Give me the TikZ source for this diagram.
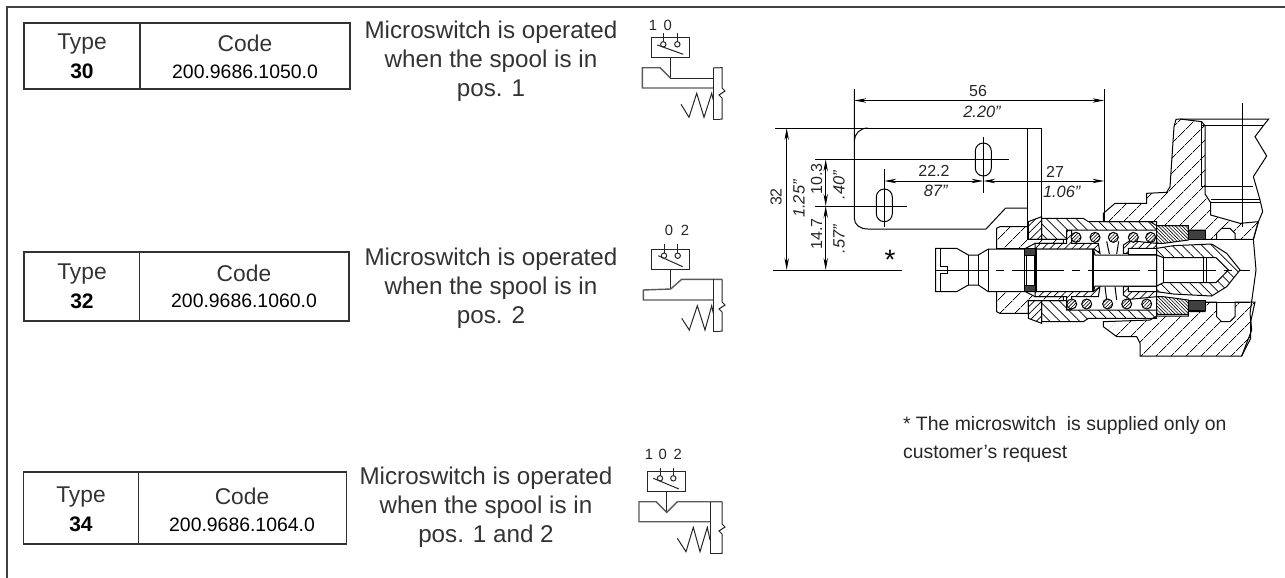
\documentclass[tikz,border=0pt]{standalone}
\usepackage{fontspec}
\setmainfont{Liberation Sans}
\usepackage{xcolor}
\usetikzlibrary{arrows.meta,patterns.meta}

\tikzset{
    frameline/.style={draw=black!75, line width=1pt},
    cellbox/.style={draw=black!80, line width=0.6pt},
    headtext/.style={font=\fontsize{11.4}{13}\selectfont, text=black!80},
    typetext/.style={font=\fontsize{10.5}{13}\selectfont\bfseries},
    codetext/.style={font=\fontsize{9.7}{12}\selectfont},
    desctext/.style={font=\fontsize{12.1}{14.4}\selectfont, text=black!80, align=center},
    notetext/.style={font=\fontsize{9.7}{10}\selectfont, text=black!85, anchor=west},
    dimtext/.style={font=\fontsize{8}{10}\selectfont, text=black!85},
    dimitalic/.style={font=\fontsize{8.2}{10}\selectfont\itshape, text=black!85},
    swtext/.style={font=\fontsize{7.4}{9}\selectfont, text=black!85},
    swline/.style={draw=black!85, line width=0.5pt},
    camline/.style={draw=black!65, line width=0.7pt},
    dimline/.style={line width=0.45pt, <->, >={Stealth[length=6pt,width=2.2pt]}},
    thinline/.style={line width=0.5pt},
    hatchwide/.style={draw, line width=0.5pt, pattern={Lines[angle=45,distance=5.4pt,line width=0.35pt]}},
    hatchback/.style={draw, line width=0.5pt, pattern={Lines[angle=-45,distance=3.5pt,line width=0.35pt]}},
    hatchfine/.style={draw, line width=0.5pt, pattern={Lines[angle=45,distance=2.6pt,line width=0.35pt]}},
    hatchdense/.style={draw, line width=0.5pt, pattern={Lines[angle=-45,distance=1.2pt,line width=0.3pt]}},
    hatchcoil/.style={draw, line width=0.5pt, preaction={fill=white}, pattern={Lines[angle=45,distance=1.2pt,line width=0.3pt]}},
    oring/.style={draw, line width=0.5pt, fill=black!75},
}

% one half of the valve section, drawn again mirrored
\newcommand{\spoolhalf}{
    \path[hatchwide] (110,445) -- (120,440) -- (205,440) -- (205,478) -- (310,478) -- (310,490) -- (225,490) -- (195,506) -- (110,506) -- cycle;
    \path[hatchfine] (205,425) -- (245,410) -- (245,478) -- (205,478) -- cycle;
    \path[hatchback] (245,415) -- (370,415) -- (385,425) -- (590,425) -- (590,450) -- (320,450) -- (320,478) -- (245,478) -- cycle;
    \path[hatchfine] (320,452) -- (335,452) -- (335,490) -- (415,490) -- (420,520) -- (402,507) -- (225,507) -- (225,490) -- (320,490) -- cycle;
    \path[hatchfine] (490,520) -- (490,495) -- (510,482) -- (590,490) -- (590,505) -- (505,505) -- (505,520) -- cycle;
    \draw[thinline] (505,505) rectangle (590,522);
    \path[hatchdense] (590,437) -- (685,437) -- (685,480) -- (610,490) -- (590,490) -- cycle;
    \path[oring] (685,450) rectangle (735,478);
}

\begin{document}
\begin{tikzpicture}[x=0.5pt,y=-0.5pt]
    \useasboundingbox (0,0) rectangle (1285,578);

    % outer frame
    \draw[frameline] (7,578) -- (7,6.5) -- (1285,6.5);

    % type and code tables
    \draw[cellbox] (24,23) rectangle (350,89);
    \draw[cellbox] (140,23) -- (140,89);
    \node[headtext] (type30) at (82,44) {Type};
    \node[typetext] (num30) at (82,71.5) {30};
    \node[headtext] (code30) at (245,43) {Code};
    \node[codetext] (val30) at (245,71.5) {200.9686.1050.0};

    \draw[cellbox] (24,252) rectangle (349,321);
    \draw[cellbox] (139.5,252) -- (139.5,321);
    \node[headtext] (type32) at (82,274) {Type};
    \node[typetext] (num32) at (82,301) {32};
    \node[headtext] (code32) at (244,273) {Code};
    \node[codetext] (val32) at (244,301) {200.9686.1060.0};

    \draw[cellbox] (23.5,472) rectangle (346.5,544);
    \draw[cellbox] (138.5,472) -- (138.5,544);
    \node[headtext] (type34) at (81,497) {Type};
    \node[typetext] (num34) at (81,524.5) {34};
    \node[headtext] (code34) at (242,496) {Code};
    \node[codetext] (val34) at (242,524.5) {200.9686.1064.0};

    % descriptions
    \node[desctext] (desc30) at (491,61.5) {Microswitch is operated\\when the spool is in\\pos. 1};
    \node[desctext] (desc32) at (491,288) {Microswitch is operated\\when the spool is in\\pos. 2};
    \node[desctext] (desc34) at (486,507) {Microswitch is operated\\when the spool is in\\pos. 1 and 2};

    % switch symbol, type 30
    \node[swtext] (sw30a) at (653,25) {1};
    \node[swtext] (sw30b) at (667.7,25) {0};
    \draw[swline] (651,37.3) rectangle (689,57.3);
    \draw[swline] (663.3,33.3) -- (663.3,41.6) (677.3,33.3) -- (677.3,41.6);
    \draw[swline] (663.3,44.3) circle (2.7) (677.3,44.3) circle (2.7);
    \draw[swline] (657.3,45) -- (683.3,54.3);
    \draw[swline] (670.7,57.3) -- (670.7,78.3) -- (713.3,78.3);
    \draw[camline] (720,67.7) -- (713.3,67.7) (713.3,88) -- (642.3,88) -- (642.3,67.7) -- (660,67.7) -- (670.7,78.3);
    \draw[swline] (713.3,67.7) -- (713.3,119) -- (720,119);
    \draw[swline] (681,104.3) -- (689,117.3) -- (696.7,93.3) -- (704,117.3) -- (711.7,93.3) -- (713.3,100);
    \draw[swline] (720,67.7) -- (722,67.7) -- (722,88) -- (725,91) -- (719,95) -- (722,98) -- (722,119) -- (720,119);

    % switch symbol, type 32
    \node[swtext] (sw32a) at (669,230.7) {0};
    \node[swtext] (sw32b) at (685,230.7) {2};
    \draw[swline] (651.7,249) rectangle (689.3,269);
    \draw[swline] (664,244.3) -- (664,253) (677.7,244.3) -- (677.7,253);
    \draw[swline] (664,255.7) circle (2.7) (677.7,255.7) circle (2.7);
    \draw[swline] (658.3,255.7) -- (682.7,266.7);
    \draw[swline] (670.7,269) -- (670.7,289);
    \draw[camline] (722,279.3) -- (681.7,279.3) -- (670.7,289) -- (643.3,290) -- (643.3,300) -- (713.3,300);
    \draw[swline] (713.3,279.3) -- (713.3,331) -- (720,331);
    \draw[swline] (681.7,318.3) -- (689.3,330) -- (697.3,305.7) -- (705,330) -- (711.7,305.7) -- (713.3,313.3);
    \draw[swline] (722,279.3) -- (722,302) -- (725,305) -- (719,309) -- (722,312) -- (722,331) -- (720,331);

    % switch symbol, type 34
    \node[swtext] (sw34a) at (649,454.3) {1};
    \node[swtext] (sw34b) at (662.7,454.3) {0};
    \node[swtext] (sw34c) at (677.7,454.3) {2};
    \draw[swline] (647.3,471.7) rectangle (685,491.7);
    \draw[swline] (660,467.7) -- (660,475.6) (673.3,467.7) -- (673.3,475.6);
    \draw[swline] (660,478.3) circle (2.7) (673.3,478.3) circle (2.7);
    \draw[swline] (653.3,478.3) -- (679,489);
    \draw[swline] (666.7,491.7) -- (666.7,512.3);
    \draw[camline] (722,501.7) -- (677.3,501.7) -- (666.7,512.3) -- (656,501.7) -- (639,501.7) -- (639,521.7) -- (710,521.7);
    \draw[swline] (710,501.7) -- (710,553.3) -- (720,553.3);
    \draw[swline] (677.3,538.3) -- (686,551.7) -- (693.3,527.3) -- (700,551.7) -- (707.3,527.3) -- (710,540);
    \draw[swline] (722,501.7) -- (722,524) -- (725,527) -- (719,531) -- (722,534) -- (722,553.3) -- (720,553.3);

    % fixing plate
    \draw[thinline] (775,128) -- (1041.7,128) -- (1041.7,240);
    \draw[thinline] (1027.7,128) -- (1027.7,240);
    \draw[thinline] (854.3,89) -- (854.3,218) .. controls (854.3,225) and (860,229) .. (868,229) -- (986,229) -- (1005.7,208) -- (1027.7,208);
    \draw[thinline] (854.3,141) .. controls (854.3,134) and (860,128) .. (868,128);
    \draw[thinline] (1104.3,89) -- (1104.3,221);

    % slots
    \draw[thinline] (876.3,197) arc (180:360:8) -- (892.3,213.7) arc (0:180:8) -- cycle;
    \draw[thinline] (975.3,151) arc (180:360:8) -- (991.3,168) arc (0:180:8) -- cycle;
    \draw[thinline] (815,206) -- (906.7,206);
    \draw[thinline] (815,159.3) -- (1009.3,159.3);
    \draw[thinline] (884.3,169.3) -- (884.3,226.7);
    \draw[thinline] (983.3,137) -- (983.3,193);

    % base line and axis
    \draw[thinline] (772.7,270) -- (902,270);

    % dimensions
    \draw[dimline] (854.3,100.5) -- (1104.3,100.5);
    \draw[dimline] (786.7,128) -- (786.7,270);
    \draw[dimline] (825.7,159.3) -- (825.7,206);
    \draw[dimline] (825.7,206) -- (825.7,270);
    \draw[dimline] (884.3,181) -- (983.3,181);
    \draw[dimline] (983.3,181) -- (1104.3,181);

    \node[dimtext] (dim56) at (978,91) {56};
    \node[dimitalic] (inch56) at (982,112) {2.20"};
    \node[dimtext] (dim222) at (934,171) {22.2};
    \node[dimitalic] (inch222) at (935.7,191) {87"};
    \node[dimtext] (dim27) at (1055,172) {27};
    \node[dimitalic] (inch27) at (1061.7,191.5) {1.06"};
    \node[dimtext, rotate=90] (dim32) at (776,197) {32};
    \node[dimitalic, rotate=90] (inch32) at (799,199) {1.25"};
    \node[dimtext, rotate=90] (dim103) at (816.7,179) {10.3};
    \node[dimitalic, rotate=90] (inch103) at (839,185) {.40"};
    \node[dimtext, rotate=90] (dim147) at (816.7,234) {14.7};
    \node[dimitalic, rotate=90] (inch147) at (839,239) {.57"};
    \node[font=\fontsize{14}{14}\selectfont] (star) at (890,260) {*};

    % valve section
    \begin{scope}[shift={(960,80)},x=0.16667pt,y=-0.16667pt]
        % upper body
        \path[hatchwide] (430,425) -- (430,400) -- (465,370) -- (560,370) -- (560,340) -- (620,337) -- (630,320) -- (642,140) -- (648,118) -- (660,117) -- (725,125) -- (735,137) -- (735,342) -- (752,368) -- (752,405) -- (840,430) -- (895,425) -- (880,478) -- (825,478) -- (825,460) -- (810,445) -- (785,445) -- (770,460) -- (770,478) -- (735,478) -- (735,450) -- (685,450) -- (685,437) -- (590,437) -- (570,425) -- cycle;
        % lower body
        \path[hatchwide] (430,725) -- (430,740) -- (470,770) -- (530,770) -- (540,790) -- (540,828) -- (845,828) -- (872,775) -- (872,725) -- (885,666) -- (825,666) -- (825,710) -- (810,725) -- (785,725) -- (770,710) -- (770,666) -- (735,666) -- (735,695) -- (685,695) -- (685,708) -- (590,708) -- (570,720) -- cycle;

        % port and break line
        \draw[thinline] (660,117) -- (926,117) -- (910,137) -- (885,170) -- (920,228) -- (880,290) -- (900,360) -- (908,395) -- (895,425) -- (880,478) -- (888,570) -- (870,700) -- (875,750) -- (845,828);
        \draw[thinline] (725,137) -- (910,137);
        \draw[thinline] (725,125) -- (725,318) -- (880,318);
        \draw[thinline] (752,358) -- (900,358) (752,368) -- (900,368);
        \draw[thinline] (848,70) -- (848,440);
        \draw[thinline] (735,478) -- (870,478) (735,666) -- (870,666);

        % symmetric parts
        \spoolhalf
        \begin{scope}[shift={(0,570)},yscale=-1,shift={(0,-570)}]
            \spoolhalf
        \end{scope}

        % plug
        \path[hatchback, even odd rule] (590,505) -- (640,497) -- (755,492) -- (800,520) -- (840,570) -- (800,620) -- (755,648) -- (640,642) -- (590,635) -- cycle
            (590,525) -- (610,533) -- (768,533) -- (805,570) -- (768,608) -- (610,608) -- (590,618) -- cycle;
        \draw[thinline] (610,533) -- (610,608) (730,533) -- (730,608) (738,533) -- (738,608);

        % coils
        \draw[thinline] (440,484) -- (448,522) (476,484) -- (470,522);
        \draw[thinline] (435,620) -- (440,660) (465,620) -- (470,660);
        \foreach \cx/\cy in {348/472, 405/472, 460/472, 520/472, 572/472, 335/672, 380/672, 443/672, 500/672, 560/672}
            \path[hatchcoil] (\cx,\cy) circle (15);

        % spool
        \draw[thinline, fill=white] (-73,505) -- (-10,505) -- (25,525) -- (55,525) -- (85,507) -- (400,507) -- (405,525) -- (590,525) -- (590,618) -- (405,618) -- (400,635) -- (85,635) -- (55,615) -- (25,615) -- (-10,635) -- (-73,635) -- cycle;
        \path[oring] (193,506) rectangle (228,525);
        \path[oring] (193,615) rectangle (228,635);
        \draw[line width=0.6pt] (193,506) -- (193,635) (228,506) -- (228,635);
        \draw[thinline] (200,525) -- (200,615) (222,525) -- (222,615);
        \draw[thinline] (-60,505) -- (-60,560) -- (-39,560) -- (-39,580) -- (-60,580) -- (-60,635);
        \draw[thinline] (25,525) -- (25,615) (55,525) -- (55,615) (85,507) -- (85,635);
        \draw[line width=1pt] (398,507) -- (398,635);
        \draw[line width=0.7pt] (590,505) -- (590,635);
        \draw[thinline, dash pattern=on 26pt off 4pt on 4pt off 4pt] (-73,570) -- (870,570);
    \end{scope}

    % note
    \node[notetext] (note1) at (896,425.5) {* The microswitch \ is supplied only on};
    \node[notetext] (note2) at (896,454) {customer’s request};
\end{tikzpicture}
\end{document}
